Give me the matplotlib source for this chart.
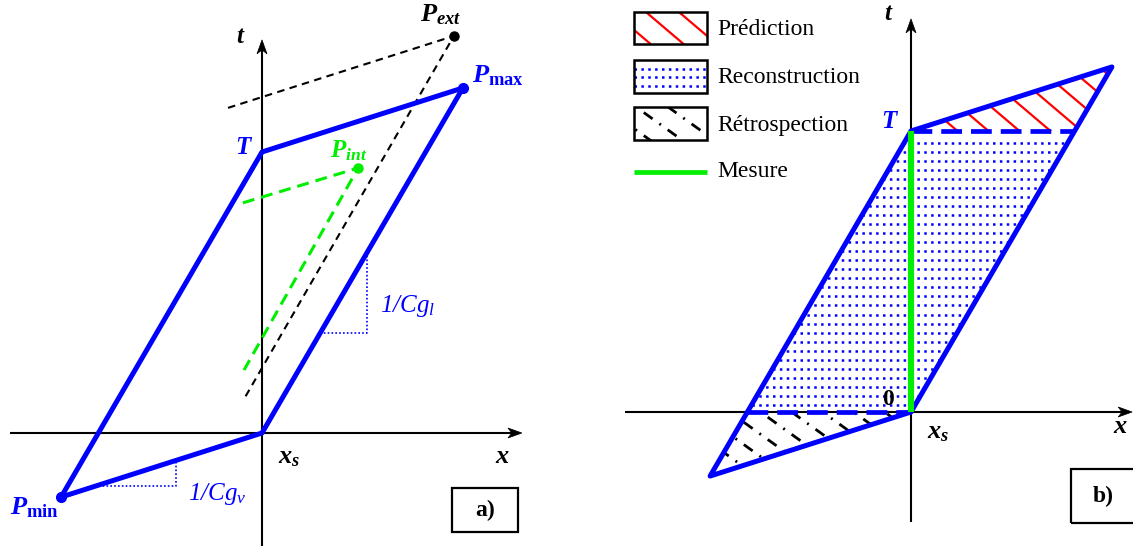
import numpy as np
import matplotlib
matplotlib.use("Agg")
import matplotlib.pyplot as plt
from matplotlib.patches import Polygon, Rectangle

plt.rcParams['font.family'] = ['Liberation Serif', 'DejaVu Serif']
plt.rcParams['mathtext.fontset'] = 'custom'
plt.rcParams['mathtext.rm'] = 'Liberation Serif:italic'
plt.rcParams['mathtext.it'] = 'Liberation Serif:italic'
plt.rcParams['mathtext.bf'] = 'Liberation Serif:bold'
plt.rcParams['mathtext.bfit'] = 'Liberation Serif:bold:italic'

# ---------------- data (diagram units, T = 1) ----------------
ORIGIN = (0.0, 0.0)
T_TIME = 1.0
P_MAX = (0.715, 1.228)
P_MIN = (-0.715, -0.228)
P_EXT = (0.683, 1.413)
P_INT = (0.342, 0.943)
EXT_ENDS_X = [-0.121, 0.683, -0.068]
EXT_ENDS_Y = [1.157, 1.413, 0.114]
INT_ENDS_X = [-0.068, 0.342, -0.064]
INT_ENDS_Y = [0.819, 0.943, 0.224]
CGL_X = [0.207, 0.374, 0.374]
CGL_Y = [0.356, 0.356, 0.640]
CGV_X = [-0.594, -0.306, -0.306]
CGV_Y = [-0.189, -0.189, -0.096]
LEGEND_LABELS = ["Prédiction", "Reconstruction", "Rétrospection", "Mesure"]

BLUE = '#0000ff'
RED = '#ff0000'
GREEN = '#00ee00'
PX = 281.0  # pixels per diagram unit

fig = plt.figure(figsize=(11.33, 5.46), dpi=100)
ax_a = fig.add_axes([0, 0, 566 / 1133, 1])
ax_a.set_xlim(-262 / PX, 304 / PX)
ax_a.set_ylim(-113 / PX, 433 / PX)
ax_b = fig.add_axes([566 / 1133, 0, 567 / 1133, 1])
ax_b.set_xlim(-345 / PX, 222 / PX)
ax_b.set_ylim(-134 / PX, 412 / PX)
for ax in (ax_a, ax_b):
    ax.axis('off')


def arrow_axis(ax, start, tip, lw=1.5):
    s = np.array(start, float)
    t = np.array(tip, float)
    d = (t - s) / np.linalg.norm(t - s)
    n = np.array([-d[1], d[0]])
    L, W, N = 14 / PX, 5 / PX, 4 / PX
    base = t - (L - N) * d
    ax.plot([s[0], base[0]], [s[1], base[1]], color='k', lw=lw,
            solid_capstyle='butt', zorder=1)
    head = [t, t - L * d + W * n, base, t - L * d - W * n]
    ax.add_patch(Polygon(head, closed=True, fc='k', ec='k', lw=0.5, zorder=1))


def hatch(ax, clip, xs, ys, slope, spacing, color, lw, ls, zorder):
    xs = np.asarray(xs)
    ys = np.asarray(ys)
    x0, x1 = xs.min() - 0.05, xs.max() + 0.05
    b = ys - slope * xs
    step = abs(slope) * spacing
    for bb in np.arange(b.min() - step * 0.5, b.max() + step, step):
        ln, = ax.plot([x0, x1], [slope * x0 + bb, slope * x1 + bb], color=color,
                      lw=lw, ls=ls, zorder=zorder, dash_capstyle='butt',
                      solid_capstyle='butt')
        ln.set_clip_path(clip)


def rows(ax, clip, x0, x1, yvals, zorder):
    for y in yvals:
        ln, = ax.plot([x0, x1], [y, y], color=BLUE, lw=1.8, ls=(0, (1, 1.75)),
                      dash_capstyle='butt', zorder=zorder)
        ln.set_clip_path(clip)


def mlabel(ax, x, y, s, color, size, ha='left', va='baseline'):
    ax.text(x, y, s, color=color, fontsize=size, ha=ha, va=va, zorder=8)


# ================= panel a =================
arrow_axis(ax_a, (-0.897, 0), (0.925, 0))
arrow_axis(ax_a, (0, -0.41), (0, 1.399))

ax_a.plot(EXT_ENDS_X, EXT_ENDS_Y, color='k', lw=1.5, ls=(0, (3.6, 2.6)), zorder=2)
ax_a.plot(INT_ENDS_X, INT_ENDS_Y, color=GREEN, lw=2.2, ls=(0, (3.9, 2.3)), zorder=2)
ax_a.plot(CGL_X, CGL_Y, color=BLUE, lw=1.2, ls=(0, (1, 1.3)), zorder=2)
ax_a.plot(CGV_X, CGV_Y, color=BLUE, lw=1.2, ls=(0, (1, 1.3)), zorder=2)

quad = [P_MIN, (0, T_TIME), P_MAX, ORIGIN]
ax_a.add_patch(Polygon(quad, closed=True, fill=False, ec=BLUE, lw=3.6,
                       joinstyle='round', zorder=4))
ax_a.plot(*P_MAX, 'o', color=BLUE, ms=7, zorder=5)
ax_a.plot(*P_MIN, 'o', color=BLUE, ms=7, zorder=5)
ax_a.plot(*P_EXT, 'o', color='k', ms=6.5, zorder=5)
ax_a.plot(*P_INT, 'o', color=GREEN, ms=6.5, zorder=5)

mlabel(ax_a, -0.0925, 1.388, r'$\mathbfit{t}$', 'k', 18)
mlabel(ax_a, 0.829, -0.107, r'$\mathbfit{x}$', 'k', 19)
mlabel(ax_a, 0.057, -0.107, r'$\mathbfit{x}_{\mathbfit{s}}$', 'k', 19)
mlabel(ax_a, -0.096, 0.993, r'$\mathbfit{T}$', BLUE, 18)
mlabel(ax_a, 0.747, 1.246, r'$\mathbfit{P}_{\mathbf{max}}$', BLUE, 19)
mlabel(ax_a, 0.562, 1.463, r'$\mathbfit{P}_{\mathbfit{ext}}$', 'k', 19)
mlabel(ax_a, -0.897, -0.288, r'$\mathbfit{P}_{\mathbf{min}}$', BLUE, 19)
mlabel(ax_a, 0.242, 0.982, r'$\mathbfit{P}_{\mathbfit{int}}$', GREEN, 18)
mlabel(ax_a, 0.420, 0.431, r'$1/Cg_l$', BLUE, 18)
mlabel(ax_a, -0.263, -0.238, r'$1/Cg_v$', BLUE, 18)

ax_a.add_patch(Rectangle((0.676, -0.352), 0.235, 0.156, fill=False, ec='k', lw=1.6, zorder=6))
ax_a.text(0.794, -0.274, 'a)', fontsize=17, fontweight='bold', ha='center',
          va='center', zorder=8)

# ================= panel b =================
arrow_axis(ax_b, (-1.018, 0), (0.787, 0))
arrow_axis(ax_b, (0, -0.391), (0, 1.399))

x_left0 = float(np.interp(0.0, [P_MIN[1], T_TIME], [P_MIN[0], 0.0]))
x_rightT = float(np.interp(T_TIME, [0.0, P_MAX[1]], [0.0, P_MAX[0]]))

pred = [(0, T_TIME), P_MAX, (x_rightT, T_TIME)]
reco = [(x_left0, 0), (0, T_TIME), (x_rightT, T_TIME), ORIGIN]
retro = [P_MIN, (x_left0, 0), ORIGIN]

pred_p = Polygon(pred, closed=True, fill=False, lw=0, zorder=0)
reco_p = Polygon(reco, closed=True, fill=False, lw=0, zorder=0)
retro_p = Polygon(retro, closed=True, fill=False, lw=0, zorder=0)
for p in (pred_p, reco_p, retro_p):
    ax_b.add_patch(p)

RED_SLOPE, RED_SP = -0.85, 31 / PX
RET_SLOPE, RET_SP = -0.72, 31 / PX
RET_LS = (0, (3.9, 3.0, 0.7, 3.0))
hatch(ax_b, pred_p, [v[0] for v in pred], [v[1] for v in pred], RED_SLOPE, RED_SP,
      RED, 1.6, '-', 2)
hatch(ax_b, retro_p, [v[0] for v in retro], [v[1] for v in retro], RET_SLOPE, RET_SP,
      'k', 2.0, RET_LS, 2)
row_sp = 9.05 / PX
rows(ax_b, reco_p, x_left0 - 0.01, x_rightT + 0.01,
     np.arange(7 / PX, T_TIME - 8 / PX, row_sp), 2)

ax_b.plot([0, x_rightT], [T_TIME, T_TIME], color=BLUE, lw=3.4, ls=(0, (4.4, 1.9)),
          dash_capstyle='butt', zorder=3)
ax_b.plot([x_left0, 0], [0, 0], color=BLUE, lw=3.4, ls=(0, (4.4, 1.9)),
          dash_capstyle='butt', zorder=3)
ax_b.add_patch(Polygon(quad, closed=True, fill=False, ec=BLUE, lw=3.6,
                       joinstyle='round', zorder=4))
ax_b.plot([0, 0], [0, T_TIME], color=GREEN, lw=4.4, solid_capstyle='butt', zorder=5)

mlabel(ax_b, -0.078, 1.395, r'$\mathbfit{t}$', 'k', 18, ha='center')
mlabel(ax_b, 0.744, -0.075, r'$\mathbfit{x}$', 'k', 19, ha='center')
mlabel(ax_b, 0.057, -0.093, r'$\mathbfit{x}_{\mathbfit{s}}$', 'k', 19)
mlabel(ax_b, -0.107, 1.011, r'$\mathbfit{T}$', BLUE, 18)
ax_b.text(-0.082, 0.046, '0', fontsize=17, fontweight='bold', ha='center',
          va='center', zorder=8)

ax_b.add_patch(Rectangle((0.569, -0.395), 0.26, 0.192, fill=False, ec='k', lw=1.6,
                         zorder=6))
ax_b.text(0.683, -0.299, 'b)', fontsize=17, fontweight='bold', ha='center',
          va='center', zorder=8)

# legend
LX0, LX1 = -0.986, -0.726
box_y = [(1.310, 1.423), (1.135, 1.253), (0.968, 1.085)]
text_base = [1.342, 1.171, 1.000, 0.836]
boxes = []
for (y0, y1) in box_y:
    r = Rectangle((LX0, y0), LX1 - LX0, y1 - y0, fill=False, ec='k', lw=1.8, zorder=6)
    ax_b.add_patch(r)
    boxes.append(r)
hatch(ax_b, boxes[0], [LX0, LX1, LX1, LX0], [box_y[0][0]] * 2 + [box_y[0][1]] * 2,
      RED_SLOPE, 33 / PX, RED, 1.6, '-', 5)
rows(ax_b, boxes[1], LX0, LX1, [1.161, 1.191, 1.221], 5)
hatch(ax_b, boxes[2], [LX0, LX1, LX1, LX0], [box_y[2][0]] * 2 + [box_y[2][1]] * 2,
      RET_SLOPE, 32 / PX, 'k', 2.0, RET_LS, 5)
ax_b.plot([LX0, LX1], [0.854, 0.854], color=GREEN, lw=3.4, solid_capstyle='butt', zorder=5)
for lab, yb in zip(LEGEND_LABELS, text_base):
    ax_b.text(-0.688, yb, lab, fontsize=17, ha='left', va='baseline', zorder=8)

fig.savefig('out.png', dpi=100)
